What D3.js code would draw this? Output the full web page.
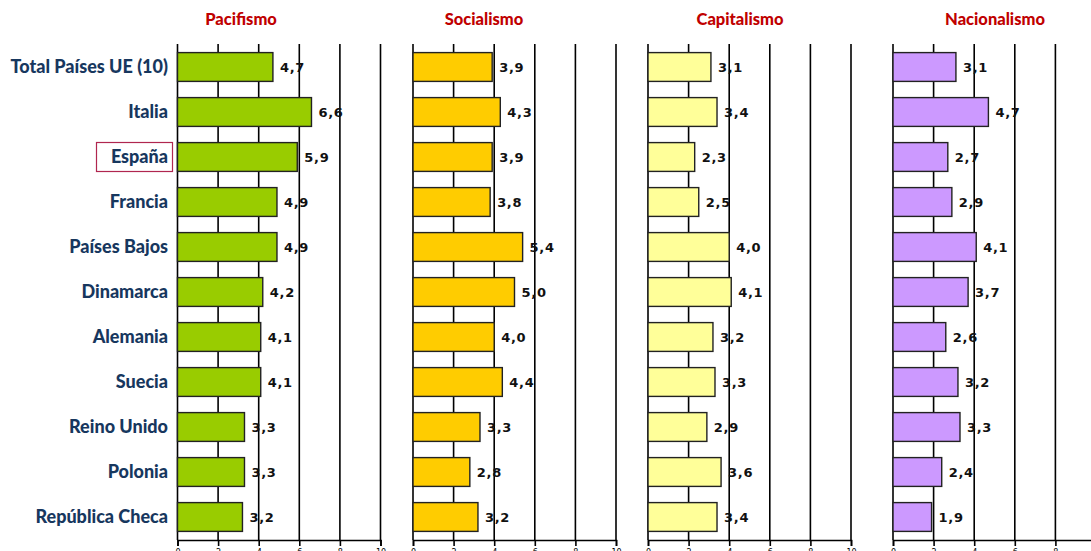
<!DOCTYPE html>
<html>
<head>
<meta charset="utf-8">
<script src="https://cdn.jsdelivr.net/npm/d3@7"></script>
<style>
  body { margin: 0; background: #fff; overflow: hidden; }
  svg { display: block; }
</style>
</head>
<body>
<svg id="chart" width="1091" height="551"></svg>
<script>
const countries = ['Total Países UE (10)', 'Italia', 'España', 'Francia', 'Países Bajos', 'Dinamarca',
  'Alemania', 'Suecia', 'Reino Unido', 'Polonia', 'República Checa']
const panelTitles = ['Pacifismo', 'Socialismo', 'Capitalismo', 'Nacionalismo']
const pacifismo = [4.7, 6.6, 5.9, 4.9, 4.9, 4.2, 4.1, 4.1, 3.3, 3.3, 3.2]
const socialismo = [3.9, 4.3, 3.9, 3.8, 5.4, 5.0, 4.0, 4.4, 3.3, 2.8, 3.2]
const capitalismo = [3.1, 3.4, 2.3, 2.5, 4.0, 4.1, 3.2, 3.3, 2.9, 3.6, 3.4]
const nacionalismo = [3.1, 4.7, 2.7, 2.9, 4.1, 3.7, 2.6, 3.2, 3.3, 2.4, 1.9]
const tickValues = [0, 2, 4, 6, 8, 10]

const series = [pacifismo, socialismo, capitalismo, nacionalismo]
const colors = ['#99CC00', '#FFCC00', '#FFFF99', '#CC99FF']
const panelX = [177.5, 413, 648, 893]
const titleX = [241, 484, 740, 995]
const panelW = 203

const svg = d3.select('#chart')
const y = d3.scaleBand().domain(countries).range([44.5, 539.5]).paddingInner(0.36).paddingOuter(0.18)
const fmt = v => v.toFixed(1).replace('.', ',')

// country labels
svg.append('g').selectAll('text').data(countries).join('text')
  .attr('x', 168)
  .attr('y', d => y(d) + y.bandwidth() / 2)
  .attr('dy', '0.35em')
  .attr('text-anchor', 'end')
  .style('font-family', 'Lato, "Open Sans", sans-serif')
  .style('font-weight', '900')
  .style('font-size', '18px')
  .style('fill', '#17375E')
  .text(d => d)

// box around España
svg.append('rect')
  .attr('x', 96.5).attr('y', y('España') + y.bandwidth() / 2 - 14.5)
  .attr('width', 76).attr('height', 29)
  .style('fill', 'none').style('stroke', '#B0264F').style('stroke-width', 1.2)

series.forEach((values, i) => {
  const x = d3.scaleLinear().domain([0, 10]).range([panelX[i], panelX[i] + panelW])
  const g = svg.append('g')

  g.append('text')
    .attr('x', titleX[i]).attr('y', 25)
    .attr('text-anchor', 'middle')
    .style('font-family', 'Lato, "Open Sans", sans-serif')
    .style('font-weight', '900')
    .style('font-size', '16.5px')
    .style('fill', '#C00000')
    .text(panelTitles[i])

  // grid lines
  g.append('g').selectAll('line').data(tickValues).join('line')
    .attr('x1', d => x(d)).attr('x2', d => x(d))
    .attr('y1', 44).attr('y2', 540)
    .style('stroke', '#000').style('stroke-width', 1.6)

  // bottom axis
  const axis = g.append('g').attr('transform', 'translate(0,540)')
    .call(d3.axisBottom(x).tickValues(tickValues).tickSize(6).tickPadding(3))
  axis.select('.domain').style('stroke', '#000').style('stroke-width', 1.6)
  axis.selectAll('.tick line').style('stroke', '#000').style('stroke-width', 1.6)
  axis.selectAll('.tick text')
    .style('font-family', '"DejaVu Sans", sans-serif')
    .style('font-size', '8px')
    .style('fill', '#000')

  // bars
  g.append('g').selectAll('rect').data(values).join('rect')
    .attr('x', x(0))
    .attr('y', (d, j) => y(countries[j]))
    .attr('width', d => x(d) - x(0))
    .attr('height', y.bandwidth())
    .style('fill', colors[i])
    .style('stroke', '#222').style('stroke-width', 1.4)

  // value labels
  g.append('g').selectAll('text').data(values).join('text')
    .attr('x', d => x(d) + 7)
    .attr('y', (d, j) => y(countries[j]) + y.bandwidth() / 2)
    .attr('dy', '0.35em')
    .style('font-family', '"DejaVu Sans", Verdana, sans-serif')
    .style('font-weight', 'bold')
    .style('font-size', '13px')
    .style('letter-spacing', '0.7px')
    .style('fill', '#111')
    .text(fmt)
})
</script>
</body>
</html>
